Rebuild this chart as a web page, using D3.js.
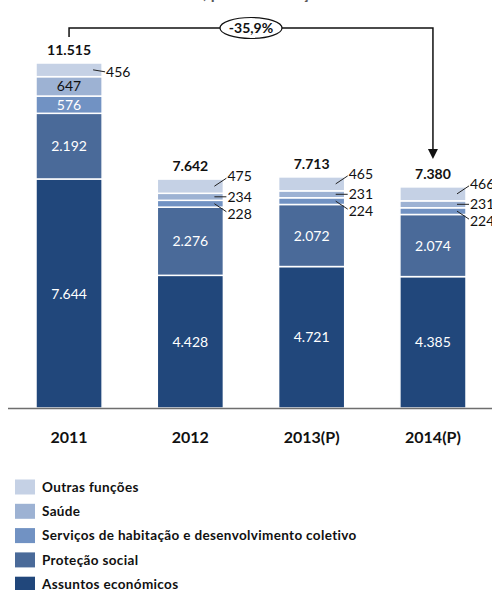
<!DOCTYPE html>
<html><head><meta charset="utf-8">
<script src="https://cdn.jsdelivr.net/npm/d3@7/dist/d3.min.js"></script>
<style>
body{margin:0;background:#fff;}
svg{display:block;font-family:Lato,"Open Sans",sans-serif;}
</style></head>
<body><svg id="c" width="492" height="590"></svg>
<script>
const years = ["2011","2012","2013(P)","2014(P)"];
const seriesNames = ["Assuntos económicos","Proteção social","Serviços de habitação e desenvolvimento coletivo","Saúde","Outras funções"];
const assuntos = [7644, 4428, 4721, 4385];
const protecao = [2192, 2276, 2072, 2074];
const servicos = [576, 228, 224, 224];
const saude = [647, 234, 231, 231];
const outras = [456, 475, 465, 466];
const totals = [11515, 7642, 7713, 7380];
const totalLabels = ["11.515","7.642","7.713","7.380"];
const changeLabel = "-35,9%";
const colors = ["#21477b","#4a6a99","#7192c3","#9db2d3","#c5d1e5"];

const series = [assuntos, protecao, servicos, saude, outras];
const fmt = v => d3.format(",")(v).replace(/,/g,".");

const svg = d3.select("#c");
const x = d3.scaleBand().domain(years).range([36, 466]).paddingInner(0.455).paddingOuter(0);
const y = d3.scaleLinear().domain([0, 12000]).range([408, 408 - 12000 * 0.02996]);

// partially clipped title (only descenders visible, as in the reference)
svg.append("text").attr("x", 203).attr("y", -1).attr("fill", "#595959")
  .attr("font-weight", "bold").attr("font-size", 16).text(", por classificação funcional");

const stack = d3.stack().keys(d3.range(5)).value((d, k) => series[k][d]);
const layers = stack(d3.range(years.length));

const g = svg.append("g");
layers.forEach((layer, k) => {
  g.selectAll(null).data(layer).join("rect")
    .attr("x", (d, i) => x(years[i]))
    .attr("width", x.bandwidth())
    .attr("y", d => y(d[1]))
    .attr("height", d => y(d[0]) - y(d[1]))
    .attr("fill", colors[k])
    .attr("stroke", "#fff").attr("stroke-width", 1.5);
});

// axis baseline
svg.append("line").attr("x1", 8).attr("x2", 492).attr("y1", y(0) + 0.5).attr("y2", y(0) + 0.5)
  .attr("stroke", "#6e6e6e").attr("stroke-width", 1.5);

// category labels
svg.selectAll(null).data(years).join("text")
  .attr("x", d => x(d) + x.bandwidth() / 2).attr("y", 443)
  .attr("text-anchor", "middle").attr("font-weight", "bold").attr("font-size", 16)
  .attr("fill", "#111").text(d => d);

// inside / outside segment labels
layers.forEach((layer, k) => {
  layer.forEach((d, i) => {
    const v = series[k][i];
    const cx = x(years[i]) + x.bandwidth() / 2;
    const cy = (y(d[0]) + y(d[1])) / 2;
    const h = y(d[0]) - y(d[1]);
    if (h > 15) {
      svg.append("text").attr("x", cx).attr("y", cy).attr("dy", "0.36em")
        .attr("text-anchor", "middle").attr("font-size", 14)
        .attr("fill", k === 3 ? "#111" : "#fff").text(fmt(v));
    } else {
      const right = x(years[i]) + x.bandwidth();
      let ly = cy;
      if (i > 0) { if (k === 4) ly = cy - 10; if (k === 2) ly = cy + 10; }
      else { ly = cy + 2; }
      svg.append("line").attr("x1", right - 9).attr("y1", cy)
        .attr("x2", right + 3).attr("y2", ly + (k === 4 && i > 0 ? 2 : 0) - (k === 2 ? 2 : 0))
        .attr("stroke", "#222").attr("stroke-width", 1);
      svg.append("text").attr("x", right + 4).attr("y", ly).attr("dy", "0.36em")
        .attr("font-size", 14).attr("fill", "#111").text(fmt(v));
    }
  });
});

// totals
svg.selectAll(null).data(totals).join("text")
  .attr("x", (d, i) => x(years[i]) + x.bandwidth() / 2)
  .attr("y", d => y(d) - 8)
  .attr("text-anchor", "middle").attr("font-weight", "bold").attr("font-size", 14)
  .attr("fill", "#111").text((d, i) => totalLabels[i]);

// change arrow
const x0 = x(years[0]) + x.bandwidth() / 2, x3 = x(years[3]) + x.bandwidth() / 2;
const topY = 28;
svg.append("path").attr("d", `M${x0},37V${topY}H${x3}V150`).attr("fill", "none")
  .attr("stroke", "#111").attr("stroke-width", 1.5);
svg.append("path").attr("d", `M${x3 - 5},149L${x3 + 5},149L${x3},159Z`).attr("fill", "#111");
const ex = (x0 + x3) / 2;
svg.append("ellipse").attr("cx", ex).attr("cy", topY).attr("rx", 31).attr("ry", 10.5)
  .attr("fill", "#fff").attr("stroke", "#111").attr("stroke-width", 1.2);
svg.append("text").attr("x", ex).attr("y", topY).attr("dy", "0.36em").attr("text-anchor", "middle")
  .attr("font-weight", "bold").attr("font-size", 14).attr("fill", "#111").text(changeLabel);

// legend (top to bottom: Outras ... Assuntos)
const legendOrder = [4, 3, 2, 1, 0];
const leg = svg.append("g");
legendOrder.forEach((k, j) => {
  const cy = 487 + j * 24.3;
  leg.append("rect").attr("x", 15).attr("y", cy - 7.5).attr("width", 20).attr("height", 15).attr("fill", colors[k]);
  leg.append("text").attr("x", 42).attr("y", cy).attr("dy", "0.36em").attr("font-weight", "bold")
    .attr("font-size", 13.5).attr("letter-spacing", 0.35).attr("fill", "#111").text(seriesNames[k]);
});
</script></body></html>
